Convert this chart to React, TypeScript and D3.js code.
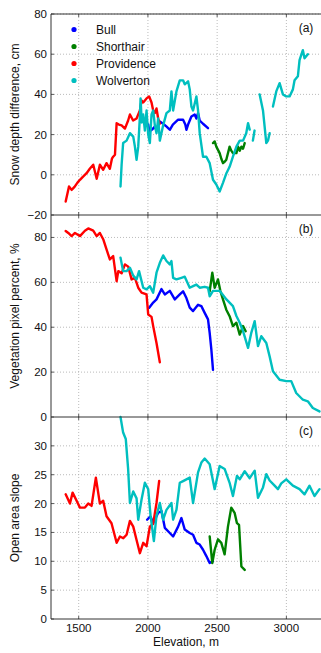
import React from 'react';
import * as d3 from 'd3';

type Pt = [number, number | null];

const SERIES = ['Bull', 'Shorthair', 'Providence', 'Wolverton'];
const COLORS = ['#0000ff', '#008000', '#ff0000', '#00bfbf'];
const X_TICKS = [1500, 2000, 2500, 3000];

// (a) snow depth difference, cm
const bullA: Pt[] = [[2002,25],[2010,21.6],[2030,22.5],[2050,24],[2062,22],[2086,26.5],[2110,25.4],[2135,24],[2158,22.4],[2180,25],[2218,27.4],[2254,27.4],[2270,25],[2278,22.4],[2290,25],[2314,29],[2338,30],[2350,28],[2362,30.7],[2374,27],[2398,25.4],[2434,23.2]];
const shortA: Pt[] = [[2470,15.8],[2482,16.6],[2494,14],[2518,10.8],[2530,8],[2542,5.8],[2554,6.5],[2566,7.5],[2590,14],[2602,12],[2614,10.8],[2639,10.8],[2651,14],[2663,12],[2675,14],[2687,13],[2699,15.8]];
const provA: Pt[] = [[1406,-13.3],[1430,-5.8],[1449,-7.5],[1470,-6],[1490,-4],[1509,-2.5],[1530,-1],[1557,0.8],[1580,3],[1605,5],[1630,-2],[1653,5],[1677,2.5],[1701,5.8],[1725,3],[1740,8],[1749,9],[1762,10],[1774,25.7],[1790,25],[1810,24.6],[1834,23],[1857,27],[1870,30],[1893,27],[1918,28],[1930,30],[1942,32],[1954,37],[1966,36],[1990,38],[2009,39],[2026,36],[2038,32],[2050,30.7],[2062,33],[2074,28],[2086,25.5]];
const wolvA: Pt[] = [[1802,-5.8],[1810,5],[1821,15.8],[1846,17],[1870,20.7],[1894,19],[1906,14],[1918,7.5],[1930,14],[1942,29],[1947,38],[1955,26],[1966,30],[1978,22],[1990,32],[2002,20],[2014,15.8],[2026,30],[2038,32],[2050,24.6],[2062,20.7],[2074,28],[2086,17],[2110,24.6],[2134,30.7],[2158,32],[2170,41.5],[2182,32],[2206,41.5],[2230,47],[2254,47],[2266,45],[2290,46.5],[2302,42.5],[2314,34],[2326,32],[2350,39],[2362,32],[2374,20.7],[2398,9],[2422,9],[2446,5.8],[2470,-2.5],[2494,-4.8],[2518,-8.3],[2542,-4],[2567,0.8],[2590,4],[2614,9],[2639,14],[2663,17],[2687,17],[2710,20.7],[2723,25.7],[2735,22.5],[2745,null],[2758,17],[2770,22],[2785,null],[2807,40],[2831,32],[2855,15.8],[2867,17],[2879,20.7],[2890,null],[2903,34],[2927,41.5],[2951,45.6],[2975,40],[2999,39],[3023,39],[3047,42.5],[3059,47],[3083,49],[3095,57],[3119,62],[3131,58],[3155,60]];

// (b) vegetation pixel percent, %
const bullB: Pt[] = [[2009,48.7],[2038,51],[2062,52.4],[2098,57],[2122,54.6],[2158,56.2],[2194,52.4],[2230,54.6],[2254,56],[2278,53],[2302,48.7],[2326,47.2],[2362,50],[2386,49.4],[2410,46.4],[2434,43.5],[2446,37.5],[2458,30.1],[2470,21]];
const shortB: Pt[] = [[2446,56],[2465,64.3],[2482,57.6],[2506,61.3],[2523,56.2],[2542,52.4],[2566,47.8],[2590,44.9],[2614,40.5],[2639,42],[2663,36.7],[2687,40.5],[2706,38.2]];
const provB: Pt[] = [[1406,82.9],[1425,82],[1449,80.6],[1473,82],[1509,80.6],[1545,83],[1569,84],[1605,83],[1630,80.6],[1653,82],[1677,79.2],[1701,74.7],[1725,70.2],[1749,71.7],[1774,60.5],[1786,65],[1810,64],[1834,68],[1858,67],[1882,61.3],[1906,62],[1930,57.6],[1954,55.4],[1990,54.6],[2002,45.7],[2026,44.6],[2038,40.5],[2062,33],[2086,24.4]];
const wolvB: Pt[] = [[1802,71],[1821,65],[1846,65],[1870,66.5],[1894,63],[1918,61.3],[1936,65],[1966,57.6],[1990,56.9],[2014,58.3],[2038,55.4],[2062,64.3],[2086,68.7],[2110,72],[2134,69.5],[2158,68],[2170,69.5],[2182,62],[2206,61.3],[2242,62],[2266,62.5],[2302,57.6],[2326,58.3],[2350,59],[2374,57.6],[2410,58],[2434,57.6],[2446,53.8],[2470,56.2],[2518,56.2],[2567,52.4],[2614,49.4],[2639,45],[2663,42],[2687,38.3],[2723,30.8],[2747,37.6],[2771,42.7],[2795,31.6],[2819,36],[2855,33],[2879,27],[2903,20.4],[2951,16.6],[2999,16],[3035,16],[3071,10.7],[3119,7.7],[3155,7],[3191,4],[3239,2.5]];

// (c) open area slope
const bullC: Pt[] = [[1994,17.2],[2018,17.8],[2038,16.6],[2074,18.4],[2098,18.7],[2122,15.8],[2158,14.9],[2182,14.3],[2218,16],[2242,17.5],[2266,15.5],[2302,14.9],[2326,14.6],[2350,13.2],[2374,12.9],[2398,12],[2422,10.9],[2446,9.7],[2470,10]];
const shortC: Pt[] = [[2446,14.3],[2465,9.7],[2482,12],[2506,13.8],[2530,13.2],[2554,11.2],[2578,16],[2602,19.3],[2626,18.4],[2643,16.6],[2658,16.3],[2675,9.1],[2699,8.5]];
const provC: Pt[] = [[1406,21.6],[1437,20],[1456,21.9],[1485,20.5],[1509,19.3],[1545,19.3],[1569,20],[1593,19.6],[1624,24.5],[1653,20],[1677,20.5],[1701,17.8],[1737,16.6],[1774,13.2],[1798,14.3],[1822,14],[1846,14.6],[1870,17],[1894,16],[1918,13.7],[1942,11.4],[1966,13.2],[1990,12.6],[2014,16],[2038,16.5],[2062,20.1],[2081,23.9]];
const wolvC: Pt[] = [[1802,35],[1821,32.3],[1840,31.2],[1857,26],[1870,20.1],[1894,22.1],[1918,20.9],[1930,17.2],[1954,20.7],[1978,23.6],[2002,22.5],[2019,17.9],[2043,13.5],[2062,17.9],[2086,20.1],[2110,17.2],[2134,18.9],[2170,20.1],[2182,17.2],[2206,18.9],[2230,23.6],[2254,23.9],[2302,24.5],[2326,20.1],[2362,25.4],[2386,27.1],[2410,27.8],[2446,26.8],[2482,22.5],[2518,26.5],[2554,26],[2590,23.6],[2614,21.3],[2643,24.8],[2663,24.2],[2699,25.6],[2735,24.4],[2771,25.7],[2795,21],[2831,22.8],[2855,25.1],[2879,24],[2915,23.1],[2939,22.5],[2963,23.5],[2999,24.2],[3047,23.1],[3095,22.5],[3131,21.6],[3167,23.1],[3203,21.3],[3239,22.5]];

const PANELS = [
  { label: '(a)', title: 'Snow depth difference, cm', domain: [-20, 80], ticks: [-20, 0, 20, 40, 60, 80], top: 14, bottom: 215, data: [bullA, shortA, provA, wolvA] },
  { label: '(b)', title: 'Vegetation pixel percent, %', domain: [0, 90], ticks: [0, 20, 40, 60, 80], top: 215, bottom: 417, data: [bullB, shortB, provB, wolvB] },
  { label: '(c)', title: 'Open area slope', domain: [0, 35], ticks: [0, 5, 10, 15, 20, 25, 30], top: 417, bottom: 619, data: [bullC, shortC, provC, wolvC] },
];

const W = 321, H = 653;
const left = 51, right = 321;
const font = '"Liberation Sans", Arial, sans-serif';

export default function App() {
  const x = d3.scaleLinear().domain([1300, 3250]).range([left, right]);

  return (
    <svg width={W} height={H} style={{ position: 'absolute', left: 0, top: 0, background: '#fff' }} fontFamily={font}>
      <defs>
        <clipPath id="plotClip"><rect x={left} y={14} width={right - left} height={619 - 14} /></clipPath>
      </defs>
      {PANELS.map((p, pi) => {
        const y = d3.scaleLinear().domain(p.domain).range([p.bottom, p.top]);
        const line = d3.line<Pt>()
          .defined(d => d[1] !== null)
          .x(d => x(d[0]))
          .y(d => y(d[1] as number));
        const midY = (p.top + p.bottom) / 2;
        return (
          <g key={pi}>
            {/* grid */}
            {p.ticks.filter(t => t !== p.domain[0]).map(t => (
              <line key={'gy' + t} x1={left} x2={right} y1={y(t)} y2={y(t)} stroke="#aaa" strokeWidth={0.8} strokeDasharray="1,2" />
            ))}
            {X_TICKS.map(t => (
              <line key={'gx' + t} x1={x(t)} x2={x(t)} y1={p.top} y2={p.bottom} stroke="#aaa" strokeWidth={0.8} strokeDasharray="1,2" />
            ))}
            {/* series */}
            <g clipPath="url(#plotClip)">
              {p.data.map((s, si) => (
                <path key={si} d={line(s) || ''} fill="none" stroke={COLORS[si]} strokeWidth={2.4} strokeLinejoin="round" strokeLinecap="round" />
              ))}
            </g>
            {/* y ticks */}
            {p.ticks.map(t => (
              <g key={'ty' + t}>
                <line x1={left} x2={left + 3} y1={y(t)} y2={y(t)} stroke="#333" strokeWidth={0.8} />
                <text x={left - 4} y={y(t)} dy="0.35em" textAnchor="end" fontSize={11.5} fill="#111">
                  {t < 0 ? '\u2212' + Math.abs(t) : t}
                </text>
              </g>
            ))}
            {/* x ticks */}
            {X_TICKS.map(t => (
              <g key={'tx' + t}>
                <line x1={x(t)} x2={x(t)} y1={p.bottom} y2={p.bottom - 3} stroke="#333" strokeWidth={0.8} />
                <line x1={x(t)} x2={x(t)} y1={p.top} y2={p.top + 3} stroke="#333" strokeWidth={0.8} />
              </g>
            ))}
            <text x={306} y={p.top + 18} textAnchor="middle" fontSize={12} fill="#111">{p.label}</text>
            <text transform={`translate(19,${midY}) rotate(-90)`} textAnchor="middle" fontSize={12} fill="#111">{p.title}</text>
          </g>
        );
      })}
      {/* frame */}
      <line x1={left} x2={right} y1={14} y2={14} stroke="#333" strokeWidth={1} />
      <line x1={left} x2={right} y1={215} y2={215} stroke="#333" strokeWidth={1} />
      <line x1={left} x2={right} y1={417} y2={417} stroke="#333" strokeWidth={1} />
      <line x1={left} x2={right} y1={619} y2={619} stroke="#333" strokeWidth={1} />
      <line x1={left} x2={left} y1={14} y2={619} stroke="#333" strokeWidth={1} />
      {/* x tick labels */}
      {X_TICKS.map(t => (
        <text key={'lx' + t} x={x(t)} y={632} textAnchor="middle" fontSize={11.5} fill="#111">{t}</text>
      ))}
      <text x={(left + right) / 2} y={646} textAnchor="middle" fontSize={12} fill="#111">Elevation, m</text>
      {/* legend */}
      {SERIES.map((s, i) => (
        <g key={s}>
          <circle cx={74} cy={29.5 + i * 17} r={2.6} fill={COLORS[i]} />
          <text x={96} y={29.5 + i * 17} dy="0.35em" fontSize={12} fill="#111">{s}</text>
        </g>
      ))}
    </svg>
  );
}
